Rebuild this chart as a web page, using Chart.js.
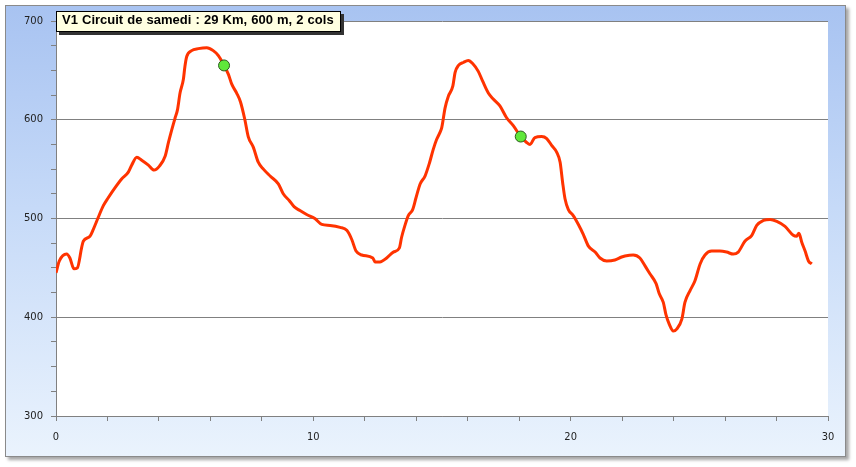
<!DOCTYPE html>
<html>
<head>
<meta charset="utf-8">
<script src="https://cdn.jsdelivr.net/npm/chart.js@4"></script>
<style>
  body { margin: 0; background: #fff; }
  #frame {
    position: absolute; left: 5px; top: 5px; width: 839px; height: 450px;
    border: 1px solid #8a8a8a;
    background: linear-gradient(to bottom, #a8c3f1 0%, #c6daf8 45%, #eaf3fd 100%);
    box-shadow: 3px 3px 3px rgba(0,0,0,0.35);
  }
  #titlebox {
    position: absolute; left: 56px; top: 11px; height: 19px; line-height: 19px;
    padding: 0 6px 0 5px; background: #ffffe1; border: 1px solid #000;
    box-shadow: 3px 3px 0 #333;
    font: bold 13px "Liberation Sans", Arial, sans-serif; color: #000;
    word-spacing: 0.5px; white-space: nowrap;
  }
</style>
</head>
<body>
<div id="frame"><canvas id="myChart" width="839" height="450"></canvas></div>
<div id="titlebox">V1 Circuit de samedi : 29 Km, 600 m, 2 cols</div>
<script>
//profile data (distance in km, altitude in m)
const km = [0.00, 0.13, 0.41, 0.54, 0.70, 0.83, 1.00, 1.06, 1.32, 1.45, 1.64, 1.84, 2.03, 2.29, 2.55, 2.81, 2.94, 3.14, 3.33, 3.59,
  3.81, 4.02, 4.24, 4.37, 4.50, 4.63, 4.72, 4.82, 4.95, 5.01, 5.08, 5.27, 5.53, 5.86, 6.11, 6.31, 6.53, 6.70, 6.83, 7.02,
  7.17, 7.34, 7.47, 7.67, 7.86, 8.06, 8.32, 8.64, 8.83, 9.07, 9.25, 9.48, 9.74, 10.06, 10.33, 10.65, 11.04, 11.30, 11.49, 11.66,
  11.88, 12.31, 12.40, 12.59, 12.85, 13.11, 13.34, 13.43, 13.56, 13.69, 13.86, 13.99, 14.15, 14.34, 14.51, 14.66, 14.79, 14.90, 14.99, 15.12,
  15.25, 15.42, 15.51, 15.64, 15.83, 16.02, 16.19, 16.41, 16.58, 16.80, 16.99, 17.25, 17.51, 17.77, 18.06, 18.29, 18.42, 18.61, 18.87, 19.07,
  19.26, 19.46, 19.59, 19.69, 19.78, 19.91, 20.10, 20.30, 20.49, 20.69, 20.95, 21.14, 21.40, 21.72, 21.98, 22.11, 22.43, 22.69, 22.89, 23.08,
  23.32, 23.44, 23.60, 23.70, 23.83, 23.99, 24.12, 24.32, 24.44, 24.64, 24.83, 25.03, 25.22, 25.48, 25.80, 26.06, 26.32, 26.51, 26.77, 27.04,
  27.23, 27.49, 27.75, 28.01, 28.33, 28.65, 28.78, 28.87, 28.98, 29.11, 29.24, 29.37];
const altitude = [445, 457, 464, 460, 449, 450, 471, 477, 482, 489, 501, 513, 521, 531, 540, 547, 554, 562, 559, 554,
  549, 553, 563, 577, 590, 602, 610, 627, 641, 654, 664, 670, 672, 673, 670, 665, 655, 646, 636, 627,
  618, 600, 583, 572, 557, 550, 543, 535, 525, 518, 512, 508, 504, 500, 494, 493, 491, 488, 479, 467,
  463, 460, 456, 456, 460, 466, 470, 481, 493, 503, 509, 521, 535, 543, 556, 570, 580, 586, 592, 612,
  624, 634, 648, 655, 658, 660, 657, 649, 639, 627, 621, 614, 602, 594, 583, 577, 575, 582, 583, 581,
  574, 567, 557, 536, 520, 509, 503, 494, 484, 472, 466, 460, 457, 458, 461, 462, 463, 460, 452, 444,
  434, 424, 415, 403, 393, 386, 388, 398, 415, 427, 437, 454, 463, 467, 467, 466, 464, 466, 477, 483,
  493, 498, 499, 497, 492, 483, 482, 485, 476, 467, 457, 454];

//the two green markers
const markKm = [6.53, 18.06];
const markAlt = [655, 583];

const yMin = 300, yMax = 700, yStep = 25;
const xMin = 0, xMax = 30, xStep = 2;

//white plot area
const plotBg = {
  id: 'plotBg',
  beforeDraw(chart) {
    const a = chart.chartArea, c = chart.ctx;
    c.save();
    c.fillStyle = '#fff';
    c.fillRect(a.left, a.top, a.right - a.left, a.bottom - a.top);
    c.restore();
  }
};

const config = {
  type: 'line',
  data: {
    datasets: [{
      data: km.map((k, i) => ({x: k, y: altitude[i]})),
      borderColor: '#ff3300',
      borderWidth: 3,
      pointRadius: 0,
      cubicInterpolationMode: 'monotone',
      order: 2
    },
    {
      data: markKm.map((k, i) => ({x: k, y: markAlt[i]})),
      showLine: false,
      pointRadius: 5.5,
      pointBackgroundColor: '#5fe83a',
      pointBorderColor: '#2d5a20',
      pointBorderWidth: 1,
      order: 1
    }]
  },
  plugins: [plotBg],
  options: {
    responsive: false,
    animation: false,
    layout: {padding: {left: 0, top: 15, right: 17, bottom: 0}},
    plugins: {legend: {display: false}, tooltip: {enabled: false}},
    scales: {
      x: {
        type: 'linear', min: xMin, max: xMax,
        afterFit: s => { s.height = 40; },
        border: {color: '#808080'},
        grid: {drawOnChartArea: false, color: '#808080', tickLength: 5},
        ticks: {
          stepSize: xStep, autoSkip: false, maxRotation: 0, padding: 10,
          color: '#222', font: {family: 'DejaVu Sans Condensed, DejaVu Sans', size: 11},
          callback: v => v % 10 === 0 ? v : ''
        }
      },
      y: {
        min: yMin, max: yMax,
        afterFit: s => { s.width = 50; },
        border: {color: '#808080'},
        grid: {
          color: c => c.tick && c.tick.value % 100 === 0 ? '#808080' : 'rgba(0,0,0,0)',
          tickColor: '#808080', tickLength: 5
        },
        ticks: {
          stepSize: yStep, autoSkip: false, padding: 8,
          color: '#222', font: {family: 'DejaVu Sans', size: 10},
          callback: v => v % 100 === 0 ? v : ''
        }
      }
    }
  }
};

let myChart = new Chart(document.getElementById('myChart'), config);
</script>
</body>
</html>
